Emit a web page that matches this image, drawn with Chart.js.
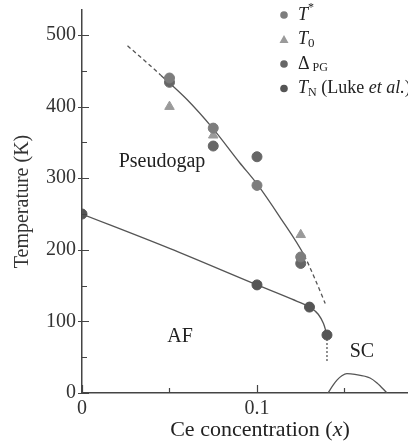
<!DOCTYPE html>
<html>
<head>
<meta charset="utf-8">
<script src="https://cdn.jsdelivr.net/npm/chart.js@4.4.1/dist/chart.umd.min.js"></script>
<style>
  html, body { margin: 0; padding: 0; background: #fff; }
</style>
</head>
<body>
<canvas id="phaseChart" width="408" height="442"></canvas>
<script>
// Measured points (Ce concentration x, temperature in K)
const tStarX = [0.05, 0.075, 0.1, 0.125];
const tStarT = [440, 370, 290, 190];
const t0X = [0.05, 0.075, 0.125];
const t0T = [400, 360, 221];
const deltaX = [0.05, 0.075, 0.1, 0.125];
const deltaT = [434, 345, 330, 181];
const tnX = [0, 0.1, 0.13, 0.14];
const tnT = [250, 151, 120, 81];

// Guide lines of the phase diagram
const pgLineX = [0.026, 0.035, 0.045, 0.06, 0.075, 0.09, 0.1, 0.113, 0.127, 0.133, 0.139];
const pgLineT = [485, 466, 444, 410, 369, 322, 292, 246, 192, 160, 125];
const afLineX = [0, 0.05, 0.1, 0.12, 0.13, 0.135, 0.138, 0.14];
const afLineT = [250, 202, 151, 131, 120, 110, 97, 81];
const afTailX = [0.14, 0.14];
const afTailT = [81, 42];
const scDomeX = [0.1406, 0.1435, 0.1457, 0.1485, 0.1514, 0.156, 0.1646, 0.1686, 0.1743];
const scDomeT = [0, 11, 18, 24, 27, 26, 21, 14, 0];

// Axis ticks
const xTickValues = [0, 0.05, 0.1, 0.15];
const xTickLabels = ['0', '', '0.1', ''];
const yTickValues = [0, 50, 100, 150, 200, 250, 300, 350, 400, 450, 500];
const yTickLabels = ['0', '', '100', '', '200', '', '300', '', '400', '', '500'];

const SERIF = '"Liberation Serif", "DejaVu Serif", serif';
const INK = '#333';
const LINE = '#555';

function pts(xs, ys) {
    return xs.map((x, i) => ({ x: x, y: ys[i] }));
}

function curve(xs, ys, extra) {
    return Object.assign({
        data: pts(xs, ys),
        showLine: true,
        borderColor: LINE,
        borderWidth: 1.3,
        pointRadius: 0,
        pointHoverRadius: 0,
        cubicInterpolationMode: 'monotone',
        fill: false
    }, extra || {});
}

function markers(label, xs, ys, color, style) {
    return {
        label: label,
        data: pts(xs, ys),
        showLine: false,
        pointStyle: style,
        pointRadius: style === 'triangle' ? 5.5 : 5,
        pointBackgroundColor: color,
        pointBorderColor: color,
        borderColor: color,
        backgroundColor: color
    };
}

// Legend rows: rich text runs next to each marker
const legendRows = [
    { ds: 0, runs: [{ t: 'T', it: true }, { t: '*', size: 12, dy: -7 }] },
    { ds: 1, runs: [{ t: 'T', it: true }, { t: '0', size: 13, dy: 4 }] },
    { ds: 2, runs: [{ t: '\u0394' }, { t: ' PG', size: 12, dy: 4 }] },
    { ds: 3, runs: [{ t: 'T', it: true }, { t: 'N', size: 12, dy: 4 }, { t: ' (Luke ' }, { t: 'et al.', it: true }, { t: ')' }] }
];

const regionLabels = [
    { text: 'Pseudogap', x: 0.0457, t: 323 },
    { text: 'AF', x: 0.056, t: 78 },
    { text: 'SC', x: 0.16, t: 57 }
];

// draws (or just measures) a row of text pieces with mixed styles
function drawRuns(ctx, runs, x, y, baseSize, paint) {
    let cx = x;
    ctx.textAlign = 'left';
    ctx.textBaseline = 'middle';
    runs.forEach(r => {
        const size = r.size || baseSize;
        ctx.font = (r.it ? 'italic ' : '') + size + 'px ' + SERIF;
        if (paint) ctx.fillText(r.t, cx, y + (r.dy || 0));
        cx += ctx.measureText(r.t).width;
    });
    return cx - x;
}

const decorPlugin = {
    id: 'phaseDecor',
    afterDraw(chart) {
        const ctx = chart.ctx;
        const xs = chart.scales.x;
        const ys = chart.scales.y;
        const area = chart.chartArea;
        ctx.save();

        // tick marks pointing into the plot
        ctx.strokeStyle = '#444';
        ctx.lineWidth = 1.2;
        ctx.beginPath();
        yTickValues.forEach(v => {
            const py = Math.round(ys.getPixelForValue(v)) + 0.5;
            const major = v % 100 === 0;
            ctx.moveTo(area.left - (major ? 4 : 0), py);
            ctx.lineTo(area.left + (major ? 7 : 5), py);
        });
        xTickValues.forEach((v, i) => {
            const px = Math.round(xs.getPixelForValue(v)) + 0.5;
            const major = xTickLabels[i] !== '';
            ctx.moveTo(px, area.bottom);
            ctx.lineTo(px, area.bottom - (major ? 8 : 5));
        });
        ctx.stroke();

        // region names
        ctx.fillStyle = '#222';
        ctx.font = '20px ' + SERIF;
        ctx.textAlign = 'center';
        ctx.textBaseline = 'middle';
        regionLabels.forEach(l => {
            ctx.fillText(l.text, xs.getPixelForValue(l.x), ys.getPixelForValue(l.t));
        });

        // x axis title with italic x
        const titleRuns = [{ t: 'Ce concentration (' }, { t: 'x', it: true }, { t: ')' }];
        const w = drawRuns(ctx, titleRuns, 0, 0, 22, false);
        ctx.fillStyle = '#222';
        drawRuns(ctx, titleRuns, xs.getPixelForValue(0.1) + 3 - w / 2, 430, 22, true);

        // legend
        legendRows.forEach((row, i) => {
            const ds = chart.data.datasets[row.ds];
            const cy = 15 + i * 24.5;
            const cx = 284;
            ctx.fillStyle = ds.pointBackgroundColor;
            ctx.beginPath();
            if (ds.pointStyle === 'triangle') {
                ctx.moveTo(cx, cy - 4.5);
                ctx.lineTo(cx + 4.5, cy + 3.5);
                ctx.lineTo(cx - 4.5, cy + 3.5);
                ctx.closePath();
            } else {
                ctx.arc(cx, cy, 3.8, 0, Math.PI * 2);
            }
            ctx.fill();
            ctx.fillStyle = '#222';
            drawRuns(ctx, row.runs, 298, cy, 18, true);
        });
        ctx.restore();
    }
};

new Chart(document.getElementById('phaseChart'), {
    type: 'scatter',
    data: {
        datasets: [
            markers('T*', tStarX, tStarT, '#7d7d7d', 'circle'),
            markers('T0', t0X, t0T, '#9a9a9a', 'triangle'),
            markers('ΔPG', deltaX, deltaT, '#666', 'circle'),
            markers('TN (Luke et al.)', tnX, tnT, '#555', 'circle'),
            curve(pgLineX, pgLineT, {
                segment: {
                    borderDash: c => (c.p0.parsed.x < 0.045 || c.p1.parsed.x > 0.128) ? [4, 3] : undefined
                }
            }),
            curve(afLineX, afLineT),
            curve(afTailX, afTailT, { borderDash: [2, 2], cubicInterpolationMode: 'default', tension: 0 }),
            curve(scDomeX, scDomeT)
        ]
    },
    options: {
        responsive: false,
        animation: false,
        layout: { autoPadding: false, padding: { top: 10, right: 0, left: 0, bottom: 0 } },
        plugins: {
            legend: { display: false },
            tooltip: { enabled: false }
        },
        scales: {
            x: {
                type: 'linear',
                min: 0,
                max: 0.1863,
                afterBuildTicks: s => { s.ticks = xTickValues.map(v => ({ value: v })); },
                afterFit: s => { s.height = 49; s.paddingLeft = 0; s.paddingRight = 0; },
                grid: { display: false },
                border: { display: true, color: '#444', width: 1.5 },
                ticks: {
                    padding: -4,
                    maxRotation: 0,
                    autoSkip: false,
                    color: INK,
                    font: { family: SERIF, size: 20 },
                    callback: (v, i) => xTickLabels[i]
                },
                title: { display: false }
            },
            y: {
                type: 'linear',
                min: 0,
                max: 535,
                afterBuildTicks: s => { s.ticks = yTickValues.map(v => ({ value: v })); },
                afterFit: s => { s.width = 82; s.paddingTop = 0; s.paddingBottom = 0; },
                grid: { display: false },
                border: { display: true, color: '#444', width: 1.5 },
                ticks: {
                    padding: -2,
                    autoSkip: false,
                    color: INK,
                    font: { family: SERIF, size: 20 },
                    callback: (v, i) => yTickLabels[i]
                },
                title: {
                    display: true,
                    text: 'Temperature (K)',
                    color: INK,
                    font: { family: SERIF, size: 20 },
                    padding: { top: 11, bottom: 0 }
                }
            }
        }
    },
    plugins: [decorPlugin]
});
</script>
</body>
</html>
